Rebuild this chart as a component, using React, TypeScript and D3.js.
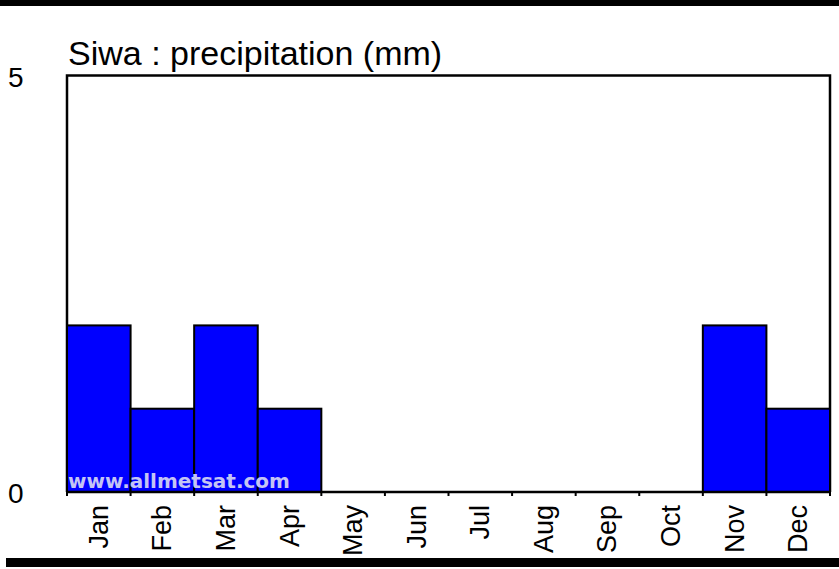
import React from "react";
import * as d3 from "d3";

const months = ["Jan", "Feb", "Mar", "Apr", "May", "Jun", "Jul", "Aug", "Sep", "Oct", "Nov", "Dec"];
const precipitation = [2, 1, 2, 1, 0, 0, 0, 0, 0, 0, 2, 1];
const yTicks = [0, 5];
const title = "Siwa : precipitation (mm)";
const watermark = "www.allmetsat.com";

const W = 839;
const H = 569;
const left = 67;
const right = 830;
const top = 75.5;
const bottom = 492;

export default function App() {
  const x = d3.scaleBand<string>().domain(months).range([left, right]).padding(0);
  const y = d3.scaleLinear().domain([0, 5]).range([bottom, top]);
  const font = "'Liberation Sans', Arial, sans-serif";
  const boundaries = months.map((m) => x(m) as number).concat([right]);

  return (
    <svg
      width={W}
      height={H}
      viewBox={`0 0 ${W} ${H}`}
      style={{ position: "absolute", left: 0, top: 0, background: "#fff" }}
    >
      <rect x={0} y={0} width={W} height={6} fill="#000" />
      <rect x={6} y={558} width={W - 6} height={9} fill="#000" />

      <text x={68} y={65} fontFamily={font} fontSize={34} fill="#000">
        {title}
      </text>

      {/* frame */}
      <path
        d={`M${left},${bottom}V${top}H${right}V${bottom}`}
        fill="none"
        stroke="#000"
        strokeWidth={2.5}
      />

      {/* bars */}
      {precipitation.map((v, i) =>
        v > 0 ? (
          <rect
            key={months[i]}
            x={x(months[i]) as number}
            y={y(v)}
            width={x.bandwidth()}
            height={y(0) - y(v)}
            fill="#0000ff"
            stroke="#000"
            strokeWidth={2}
          />
        ) : null
      )}

      {/* x axis line and ticks */}
      <line x1={left} x2={right} y1={bottom} y2={bottom} stroke="#000" strokeWidth={2.5} />
      {boundaries.map((bx, i) => (
        <line key={i} x1={bx} x2={bx} y1={bottom} y2={bottom + 4} stroke="#000" strokeWidth={2} />
      ))}

      {/* y tick labels */}
      {yTicks.map((t) => (
        <text key={t} x={8} y={y(t) + 11} fontFamily={font} fontSize={28} fill="#000">
          {t}
        </text>
      ))}

      {/* month labels */}
      {months.map((m) => {
        const cx = (x(m) as number) + x.bandwidth() / 2;
        const ty = 505;
        return (
          <text
            key={m}
            transform={`translate(${cx + 9},${ty}) rotate(-90)`}
            textAnchor="end"
            fontFamily={font}
            fontSize={27}
            fill="#000"
          >
            {m}
          </text>
        );
      })}

      {/* watermark */}
      <text
        x={68}
        y={488}
        fontFamily="'DejaVu Sans', sans-serif"
        fontSize={20}
        fontWeight="bold"
        fill="#c4c4f4"
      >
        {watermark}
      </text>
    </svg>
  );
}
